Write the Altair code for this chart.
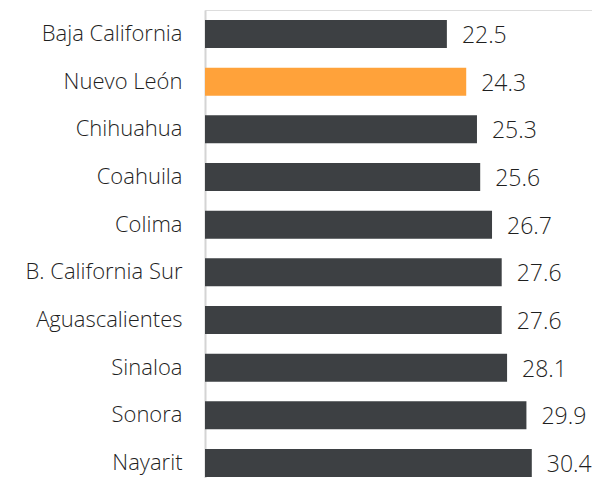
import altair as alt
import pandas as pd

states = ["Baja California", "Nuevo León", "Chihuahua", "Coahuila", "Colima",
          "B. California Sur", "Aguascalientes", "Sinaloa", "Sonora", "Nayarit"]
values = [22.5, 24.3, 25.3, 25.6, 26.7, 27.6, 27.6, 28.1, 29.9, 30.4]
highlight = ["no", "yes", "no", "no", "no", "no", "no", "no", "no", "no"]

df = pd.DataFrame({"state": states, "value": values, "hl": highlight,
                   "label": [f"{v:.1f}" for v in values]})

FONT = "Open Sans"

y = alt.Y("state:N", sort=None, title=None,
          scale=alt.Scale(paddingInner=0.413, paddingOuter=0.1155, align=0.91, round=False),
          axis=alt.Axis(domain=True, domainColor="#d4d4d4", domainWidth=2, ticks=False,
                        labelPadding=23, labelFontSize=22, labelFont=FONT,
                        labelFontWeight=300,
                        labelColor="#1f1f1f", labelLimit=300))
x = alt.X("value:Q", title=None, scale=alt.Scale(domain=[0, 36], nice=False, zero=True),
          axis=None)

bars = alt.Chart(df).mark_bar().encode(
    y=y, x=x,
    color=alt.Color("hl:N", scale=alt.Scale(domain=["no", "yes"], range=["#3d4043", "#ffa23a"]),
                    legend=None),
)

labels = alt.Chart(df).mark_text(align="left", baseline="middle", dx=15, dy=2,
                                 fontSize=23, font=FONT, fontWeight=300,
                                 color="#1f1f1f").encode(
    y=y, x=x, text="label:N"
)

chart = (bars + labels).properties(
    width=387, height=468,
    autosize=alt.AutoSizeParams(type="none"),
    padding={"left": 197, "top": 2, "right": 0, "bottom": 0},
).configure_view(stroke=None).configure(background="white")

chart.save("out.html", embed_options={"renderer": "svg", "actions": False})
